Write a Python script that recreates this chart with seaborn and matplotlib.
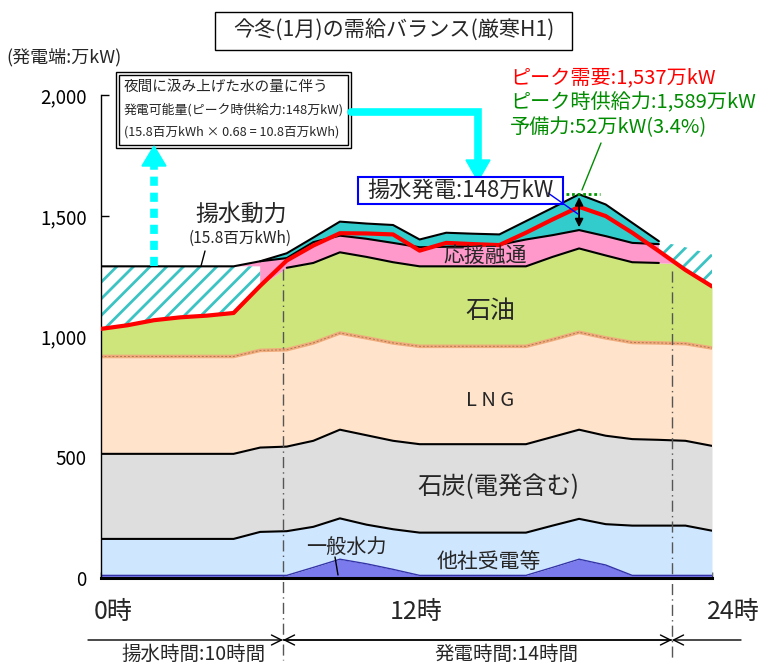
import numpy as np
import pandas as pd
import matplotlib
matplotlib.use('Agg')
import matplotlib.pyplot as plt
import seaborn as sns
from matplotlib.patches import Rectangle, Polygon

sns.set_theme(style='white')
plt.rcParams['font.family'] = ['Noto Sans CJK JP', 'DejaVu Sans']
plt.rcParams['hatch.linewidth'] = 2.0

# hourly values (万kW); tops of each stacked layer
hours = list(range(24))
hydro_top    = [12, 12, 12, 12, 12, 12, 12, 12, 45, 79, 60, 37, 12, 12, 12, 12, 12, 45, 79, 55, 12, 12, 12, 12]
received_top = [163, 163, 163, 163, 163, 163, 192, 195, 213, 248, 222, 203, 189, 189, 189, 189, 189, 218, 246, 224, 218, 218, 218, 197]
coal_top     = [515, 515, 515, 515, 515, 515, 541, 545, 569, 615, 592, 569, 555, 555, 555, 555, 555, 585, 615, 590, 576, 573, 569, 548]
lng_top      = [918, 918, 918, 918, 918, 918, 943, 946, 974, 1015, 995, 974, 960, 960, 960, 960, 960, 988, 1018, 995, 976, 974, 971, 953]
oil_top      = [1032, 1047, 1068, 1080, 1087, 1098, 1210, 1285, 1305, 1349, 1330, 1308, 1291, 1291, 1291, 1291, 1291, 1330, 1365, 1336, 1308, 1305, 1302, 1208]
aid_top      = [1291, 1291, 1291, 1291, 1291, 1291, 1312, 1325, 1391, 1418, 1405, 1388, 1370, 1372, 1375, 1380, 1402, 1420, 1441, 1416, 1388, 1383, 1302, 1208]
supply_top   = [1291, 1291, 1291, 1291, 1291, 1291, 1312, 1345, 1410, 1476, 1468, 1462, 1402, 1430, 1426, 1423, 1478, 1533, 1589, 1547, 1471, 1395, 1302, 1208]
demand       = [1032, 1047, 1068, 1080, 1087, 1098, 1210, 1315, 1377, 1428, 1427, 1423, 1356, 1388, 1383, 1379, 1430, 1485, 1537, 1499, 1430, 1354, 1276, 1208]
pump_top     = [1291, 1291, 1291, 1291, 1291, 1291, 1291] + [np.nan] * 14 + [1395, 1370, 1340]

yticks = [0, 500, 1000, 1500, 2000]
ytick_labels = ['0', '500', '1,000', '1,500', '2,000']
hour_labels = ['0時', '12時', '24時']

df = pd.DataFrame({'hour': hours, 'hydro': hydro_top, 'received': received_top, 'coal': coal_top,
                   'lng': lng_top, 'oil': oil_top, 'aid': aid_top, 'supply': supply_top,
                   'demand': demand, 'pump': pump_top})

W, H = 767, 666
fig = plt.figure(figsize=(W / 100, H / 100), dpi=100)
ax = fig.add_axes([100.7 / W, 1 - 578.3 / H, (712 - 100.7) / W, (578.3 - 95) / H])


def P(x, y):
    return (x / W, 1 - y / H)


# stacked supply layers
ax.fill_between(df.hour, 0, df.hydro, color='#7B7BEE', lw=0)
ax.fill_between(df.hour, df.hydro, df.received, color='#CFE6FF', lw=0)
ax.fill_between(df.hour, df.received, df.coal, color='#DEDEDE', lw=0)
ax.fill_between(df.hour, df.coal, df.lng, color='#FFE3CB', lw=0)
ax.fill_between(df.hour, df.lng, df.oil, color='#CDE57B', lw=0)
ax.fill_between(df.hour, df.oil, df.aid, color='#FF99CC', lw=0)
ax.fill_between(df.hour, df.aid, df.supply, color='#33CCCC', lw=0)
# pumping power (hatched)
ax.fill_between(df.hour, df.demand, df.pump, facecolor='white', edgecolor='#3CC3C3',
                hatch='//', lw=0, zorder=1.5)

# layer outlines
sns.lineplot(data=df, x='hour', y='hydro', color='#3434A8', lw=1, ax=ax)
sns.lineplot(data=df, x='hour', y='received', color='black', lw=1.5, ax=ax)
sns.lineplot(data=df, x='hour', y='coal', color='black', lw=1.5, ax=ax)
sns.lineplot(data=df, x='hour', y='lng', color='#F0AC7C', lw=2.6, ax=ax)
sns.lineplot(data=df, x='hour', y='lng', color='#B07850', lw=0.7, ax=ax, linestyle=(0, (2, 2)))
sns.lineplot(data=df.iloc[7:22], x='hour', y='oil', color='black', lw=1.5, ax=ax)
sns.lineplot(data=df.iloc[6:22], x='hour', y='aid', color='black', lw=1.5, ax=ax)
sns.lineplot(data=df.iloc[0:22], x='hour', y='supply', color='black', lw=1.5, ax=ax)
sns.lineplot(data=df, x='hour', y='demand', color='#FF0000', lw=3, ax=ax, zorder=3)

ax.set_xlim(0, 23)
ax.set_ylim(0, 2000)
ax.set_yticks(yticks, ytick_labels, fontsize=13.5)
ax.set_xticks(hours, [''] * len(hours))
ax.set_xlabel('')
ax.set_ylabel('')
ax.tick_params(axis='y', direction='in', length=6, width=1, pad=10, left=True, colors='black')
ax.tick_params(axis='x', direction='in', length=4, width=1, bottom=True, colors='black')
for s in ['top', 'right']:
    ax.spines[s].set_visible(False)
ax.spines['left'].set_color('black')
ax.spines['left'].set_linewidth(1)
ax.spines['bottom'].set_color('black')
ax.spines['bottom'].set_linewidth(2.2)

# boundaries of pumping / generating hours
for xv, ytop in [(6.86, 1280), (21.5, 1270)]:
    ax.plot([xv, xv], [ytop, -340], color='#555555', lw=1, ls=(0, (8, 3, 1, 3)), clip_on=False, zorder=2)

# peak markers
ax.plot([17.5, 18.8], [1589, 1589], color='#009900', lw=2, ls=(0, (1, 1)), zorder=4)
ax.annotate('', xy=(18, 1589), xytext=(18, 1441),
            arrowprops=dict(arrowstyle='<|-|>', color='black', lw=1.3, mutation_scale=12), zorder=4)

# title
fig.patches.append(Rectangle(P(215, 50), 357 / W, 38 / H, transform=fig.transFigure,
                             fill=False, ec='black', lw=1))
fig.text(*P(394, 31), '今冬(1月)の需給バランス(厳寒H1)', ha='center', va='center', fontsize=15.2)
fig.text(*P(6, 57), '(発電端:万kW)', ha='left', va='center', fontsize=13)

# note box (double border)
fig.patches.append(Rectangle(P(116, 148), 235 / W, 76 / H, transform=fig.transFigure,
                             fill=True, fc='white', ec='black', lw=1))
fig.patches.append(Rectangle(P(119, 145), 229 / W, 70 / H, transform=fig.transFigure,
                             fill=False, ec='black', lw=1))
fig.text(*P(124, 87), '夜間に汲み上げた水の量に伴う', ha='left', va='center', fontsize=10.5)
fig.text(*P(124, 110), '発電可能量(ピーク時供給力:148万kW)', ha='left', va='center', fontsize=9.3)
fig.text(*P(124, 132), '(15.8百万kWh × 0.68 = 10.8百万kWh)', ha='left', va='center', fontsize=9.1)

# cyan arrows
fig.lines.append(plt.Line2D([351 / W, 478 / W, 478 / W], [1 - 112 / H, 1 - 112 / H, 1 - 162 / H],
                            transform=fig.transFigure, color='#00FFFF', lw=5.5, solid_joinstyle='miter'))
fig.patches.append(Polygon([P(466, 160), P(490, 160), P(478, 181)], closed=True,
                           transform=fig.transFigure, color='#00FFFF'))
fig.lines.append(plt.Line2D([154 / W, 154 / W], [1 - 266 / H, 1 - 166 / H], transform=fig.transFigure,
                            color='#00FFFF', lw=5.5, ls=(0, (1.2, 0.9))))
fig.patches.append(Polygon([P(142, 166), P(166, 166), P(154, 146)], closed=True,
                           transform=fig.transFigure, color='#00FFFF'))

# layer labels
fig.text(*P(241, 214), '揚水動力', ha='center', va='center', fontsize=16.5)
fig.text(*P(240, 238), '(15.8百万kWh)', ha='center', va='center', fontsize=11.2)
fig.lines.append(plt.Line2D([205 / W, 201 / W], [1 - 251 / H, 1 - 266 / H], transform=fig.transFigure,
                            color='black', lw=1))
fig.patches.append(Rectangle(P(358, 204), 205 / W, 27 / H, transform=fig.transFigure,
                             fc='white', ec='#0000FF', lw=1.5))
fig.text(*P(460, 190), '揚水発電:148万kW', ha='center', va='center', fontsize=16)
fig.lines.append(plt.Line2D([548 / W, 578 / W], [1 - 193 / H, 1 - 214 / H], transform=fig.transFigure,
                            color='#0000FF', lw=1))

fig.text(*P(510, 78), 'ピーク需要:1,537万kW', ha='left', va='center', fontsize=14.5, color='#FF0000')
fig.text(*P(510, 103), 'ピーク時供給力:1,589万kW', ha='left', va='center', fontsize=14.5, color='#008C00')
fig.text(*P(510, 128), '予備力:52万kW(3.4%)', ha='left', va='center', fontsize=14.5, color='#008C00')
fig.lines.append(plt.Line2D([601 / W, 582 / W], [1 - 143 / H, 1 - 190 / H], transform=fig.transFigure,
                            color='#008C00', lw=1))

fig.text(*P(485, 256), '応援融通', ha='center', va='center', fontsize=15)
fig.text(*P(490, 311), '石油', ha='center', va='center', fontsize=18)
fig.text(*P(490, 400), 'L N G', ha='center', va='center', fontsize=14.5)
fig.text(*P(498, 487), '石炭(電発含む)', ha='center', va='center', fontsize=17.5)
fig.text(*P(346, 547), '一般水力', ha='center', va='center', fontsize=14.5)
fig.lines.append(plt.Line2D([335 / W, 338 / W], [1 - 557 / H, 1 - 575 / H], transform=fig.transFigure,
                            color='black', lw=1))
fig.text(*P(489, 562), '他社受電等', ha='center', va='center', fontsize=15)

# hour labels
for lab, xp in zip(hour_labels, [113, 416, 733]):
    fig.text(*P(xp, 612), lab, ha='center', va='center', fontsize=18)

# pumping / generating periods
arrow_kw = dict(arrowstyle='->', color='black', lw=1, mutation_scale=18, shrinkA=0, shrinkB=0)
ax.annotate('', xy=P(283, 640), xytext=P(88, 640), xycoords='figure fraction', arrowprops=arrow_kw)
ax.annotate('', xy=P(283, 640), xytext=P(672, 640), xycoords='figure fraction', arrowprops=arrow_kw)
ax.annotate('', xy=P(672, 640), xytext=P(283, 640), xycoords='figure fraction', arrowprops=arrow_kw)
ax.annotate('', xy=P(672, 640), xytext=P(741, 640), xycoords='figure fraction', arrowprops=arrow_kw)
fig.text(*P(194, 654), '揚水時間:10時間', ha='center', va='center', fontsize=14)
fig.text(*P(506, 654), '発電時間:14時間', ha='center', va='center', fontsize=14)

fig.savefig('out.png', dpi=100)
